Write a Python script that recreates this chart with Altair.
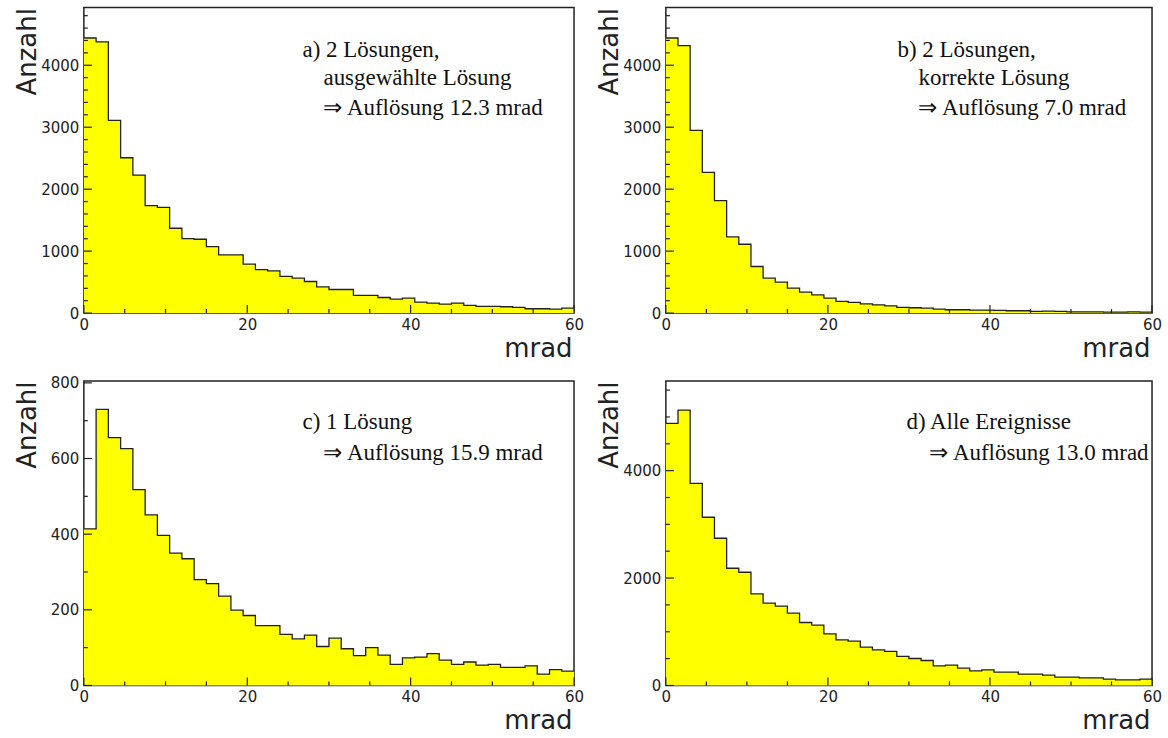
import altair as alt
import pandas as pd

# ---- data (40 bins of 1.5 mrad from 0 to 60) ----
BIN_WIDTH = 1.5
N_BINS = 40

counts_a = [4440, 4376, 3109, 2507, 2228, 1734, 1707, 1369, 1203, 1192,
            1074, 940, 940, 789, 703, 682, 591, 564, 510, 424,
            381, 381, 285, 285, 252, 225, 242, 177, 161, 145,
            161, 123, 107, 107, 102, 91, 70, 70, 64, 80]
counts_b = [4440, 4317, 2948, 2271, 1815, 1230, 1111, 752, 564, 499,
            403, 338, 295, 242, 188, 172, 150, 134, 118, 91,
            86, 80, 64, 54, 54, 48, 48, 43, 38, 38,
            27, 32, 27, 21, 21, 21, 16, 16, 21, 16]
counts_c = [414, 730, 655, 626, 518, 451, 397, 350, 335, 280,
            269, 236, 199, 185, 158, 158, 135, 123, 133, 103,
            125, 97, 79, 100, 80, 56, 73, 75, 84, 67,
            56, 62, 54, 56, 48, 48, 52, 30, 42, 38]
counts_d = [4880, 5128, 3764, 3132, 2741, 2183, 2108, 1705, 1532, 1476,
            1346, 1172, 1122, 961, 850, 825, 713, 664, 633, 540,
            502, 465, 366, 378, 322, 273, 291, 248, 248, 211,
            211, 192, 155, 155, 143, 143, 118, 105, 105, 118]

ymax = {"a": 4930, "b": 4930, "c": 805, "d": 5670}
y_major = {"a": [0, 1000, 2000, 3000, 4000], "b": [0, 1000, 2000, 3000, 4000],
           "c": [0, 200, 400, 600, 800], "d": [0, 2000, 4000]}
y_minor_step = {"a": 200, "b": 200, "c": 100, "d": 500}
x_major = [0, 20, 40, 60]
x_minor = [5, 10, 15, 25, 30, 35, 45, 50, 55]

labels = {
    "a": ["a) 2 Lösungen,", "ausgewählte Lösung", "⇒ Auflösung 12.3 mrad"],
    "b": ["b) 2 Lösungen,", "korrekte Lösung", "⇒ Auflösung 7.0 mrad"],
    "c": ["c) 1 Lösung", "⇒ Auflösung 15.9 mrad"],
    "d": ["d) Alle Ereignisse", "⇒ Auflösung 13.0 mrad"],
}

W_LEFT, W_RIGHT = 491, 487
H_TOP, H_BOT = 306, 305
TICK_COLOR = "#222222"
LABEL_FONT = "DejaVu Sans"
TEXT_FONT = "Liberation Serif"

# text placement (pixels inside plot area): (x first line, x other lines, baselines)
text_pos = {
    "a": (219, 240, [49, 78, 108]),
    "b": (232, 253, [49, 78, 108]),
    "c": (219, 240, [48, 79]),
    "d": (241, 264, [48, 79]),
}


def panel(key, counts, width, height):
    edges = [i * BIN_WIDTH for i in range(N_BINS + 1)]
    df = pd.DataFrame({"x": edges, "y": counts + [counts[-1]]})
    xs = alt.Scale(domain=[0, 60], nice=False, zero=False)
    ys = alt.Scale(domain=[0, ymax[key]], nice=False)

    area = alt.Chart(df).mark_area(interpolate="step-after", color="#ffff00").encode(
        x=alt.X("x:Q", scale=xs, axis=alt.Axis(
            values=x_major, tickSize=0, domain=False, grid=False, format="d",
            labelFont=LABEL_FONT, labelFontSize=15, labelColor="#222222",
            labelPadding=4, labelFlush=False,
            title="mrad", titleFont=LABEL_FONT, titleFontSize=26,
            titleFontWeight="normal", titleColor="#222222",
            titleX=width - 2, titleY=43, titleAlign="right",
            titleBaseline="alphabetic")),
        y=alt.Y("y:Q", scale=ys, axis=alt.Axis(
            values=y_major[key], tickSize=0, domain=False, grid=False, format="d",
            labelFont=LABEL_FONT, labelFontSize=15, labelColor="#222222",
            labelPadding=5, labelFlush=False,
            title="Anzahl", titleFont=LABEL_FONT, titleFontSize=26,
            titleFontWeight="normal", titleColor="#222222",
            titleAngle=270, titleAlign="right", titleBaseline="alphabetic",
            titleX=-48, titleY=0)),
    )
    line = alt.Chart(df).mark_line(interpolate="step-after", color="#222222",
                                   strokeWidth=1.3).encode(
        x=alt.X("x:Q", scale=xs), y=alt.Y("y:Q", scale=ys))

    xmaj = alt.Chart(pd.DataFrame({"x": x_major})).mark_rule(
        color=TICK_COLOR, strokeWidth=1.2).encode(
        x=alt.X("x:Q", scale=xs), y=alt.value(height), y2=alt.value(height - 8))
    xmin = alt.Chart(pd.DataFrame({"x": x_minor})).mark_rule(
        color=TICK_COLOR, strokeWidth=1.2).encode(
        x=alt.X("x:Q", scale=xs), y=alt.value(height), y2=alt.value(height - 4))

    minor_vals = [v for v in range(0, ymax[key], y_minor_step[key]) if v not in y_major[key]]
    ymaj = alt.Chart(pd.DataFrame({"y": y_major[key]})).mark_rule(
        color=TICK_COLOR, strokeWidth=1.2).encode(
        y=alt.Y("y:Q", scale=ys), x=alt.value(0), x2=alt.value(8))
    ymin = alt.Chart(pd.DataFrame({"y": minor_vals})).mark_rule(
        color=TICK_COLOR, strokeWidth=1.2).encode(
        y=alt.Y("y:Q", scale=ys), x=alt.value(0), x2=alt.value(4))

    x1, x2, bases = text_pos[key]
    texts = []
    for i, (txt, base) in enumerate(zip(labels[key], bases)):
        texts.append(
            alt.Chart(alt.Data(values=[{}])).mark_text(
                align="left", baseline="alphabetic", font=TEXT_FONT,
                fontSize=23, color="#111111").encode(
                x=alt.value(x1 if i == 0 else x2), y=alt.value(base),
                text=alt.value(txt)))

    return alt.layer(area, line, xmaj, xmin, ymaj, ymin, *texts).properties(
        width=width, height=height)


pa = panel("a", counts_a, W_LEFT, H_TOP)
pb = panel("b", counts_b, W_RIGHT, H_TOP)
pc = panel("c", counts_c, W_LEFT, H_BOT)
pd_ = panel("d", counts_d, W_RIGHT, H_BOT)

chart = alt.concat(
    pa, pb, pc, pd_, columns=2,
    spacing={"row": 68, "column": 92}, bounds="flush",
).properties(
    padding={"left": 14, "top": 6, "right": 5, "bottom": 0},
    background="white",
).configure_view(stroke="#222222", strokeWidth=1.5)

chart.save("out.html", embed_options={"renderer": "svg", "actions": False})
